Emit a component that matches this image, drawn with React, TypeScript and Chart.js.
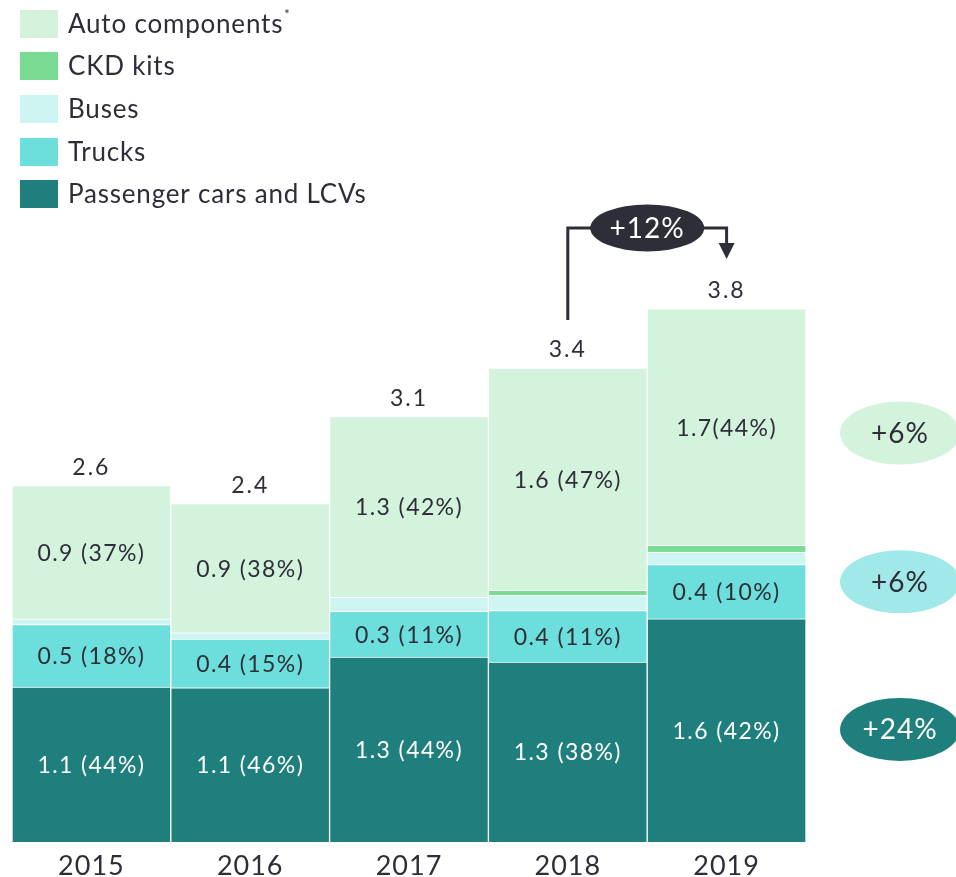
import React, { useEffect, useRef } from "react";
import { Chart, registerables } from "chart.js";

Chart.register(...registerables);

const years = ["2015", "2016", "2017", "2018", "2019"];
const passengerCars = [1.115, 1.11, 1.33, 1.295, 1.605];
const trucks = [0.45, 0.35, 0.33, 0.37, 0.39];
const buses = [0.04, 0.045, 0.1, 0.11, 0.09];
const ckdKits = [0, 0, 0, 0.035, 0.05];
const autoComponents = [0.96, 0.93, 1.3, 1.6, 1.7];

const passengerLabels = ["1.1 (44%)", "1.1 (46%)", "1.3 (44%)", "1.3 (38%)", "1.6 (42%)"];
const truckLabels = ["0.5 (18%)", "0.4 (15%)", "0.3 (11%)", "0.4 (11%)", "0.4 (10%)"];
const autoLabels = ["0.9 (37%)", "0.9 (38%)", "1.3 (42%)", "1.6 (47%)", "1.7(44%)"];
const totalLabels = ["2.6", "2.4", "3.1", "3.4", "3.8"];

const growthSeries = ["Auto components", "Trucks", "Passenger cars and LCVs"];
const growthValues = ["+6%", "+6%", "+24%"];
const overallGrowth = "+12%";

const legendOrder = ["Auto components", "CKD kits", "Buses", "Trucks", "Passenger cars and LCVs"];

const COLORS: Record<string, string> = {
  "Passenger cars and LCVs": "#1f7f7c",
  Trucks: "#6cdedb",
  Buses: "#cff5f2",
  "CKD kits": "#7adb93",
  "Auto components": "#d3f3dc",
};
const GROWTH_FILL: Record<string, string> = {
  "Auto components": "#d3f3dc",
  Trucks: "#a1e9e8",
  "Passenger cars and LCVs": "#1f7f7c",
};
const DARK = "#2e2e38";
const FONT = "Lato";
const W = "400";

const annotPlugin = {
  id: "annot",
  beforeDraw(chart: any) {
    (chart.ctx as any).letterSpacing = "1px";
  },
  afterDatasetsDraw(chart: any) {
    const ctx = chart.ctx as any;
    const area = chart.chartArea;
    ctx.save();
    ctx.textAlign = "center";
    ctx.textBaseline = "middle";

    // segment labels
    ctx.letterSpacing = "1.4px";
    const labelMap: (string[] | null)[] = [passengerLabels, truckLabels, null, null, autoLabels];
    chart.data.datasets.forEach((_ds: any, di: number) => {
      const labels = labelMap[di];
      if (!labels) return;
      const meta = chart.getDatasetMeta(di);
      meta.data.forEach((bar: any, i: number) => {
        ctx.fillStyle = di === 0 ? "#ffffff" : DARK;
        ctx.font = `${W} 23px ${FONT}`;
        ctx.fillText(labels[i], bar.x, (bar.y + bar.base) / 2 + 1);
      });
    });

    // totals
    const topMeta = chart.getDatasetMeta(chart.data.datasets.length - 1);
    ctx.fillStyle = DARK;
    ctx.font = `${W} 23px ${FONT}`;
    ctx.letterSpacing = "2px";
    topMeta.data.forEach((bar: any, i: number) => {
      ctx.fillText(totalLabels[i], bar.x, bar.y - 18);
    });

    // arrow 2018 -> 2019
    const b3 = topMeta.data[3];
    const b4 = topMeta.data[4];
    const lineY = Math.min(b3.y, b4.y) - 81;
    const startY = b3.y - 48;
    const tipY = b4.y - 50;
    ctx.strokeStyle = DARK;
    ctx.lineWidth = 3;
    ctx.beginPath();
    ctx.moveTo(b3.x, startY);
    ctx.lineTo(b3.x, lineY);
    ctx.lineTo(b4.x, lineY);
    ctx.lineTo(b4.x, tipY - 14);
    ctx.stroke();
    ctx.fillStyle = DARK;
    ctx.beginPath();
    ctx.moveTo(b4.x - 8, tipY - 16);
    ctx.lineTo(b4.x + 8, tipY - 16);
    ctx.lineTo(b4.x, tipY);
    ctx.closePath();
    ctx.fill();
    const ecx = (b3.x + b4.x) / 2;
    ctx.beginPath();
    ctx.ellipse(ecx, lineY, 57, 23.5, 0, 0, Math.PI * 2);
    ctx.fill();
    ctx.fillStyle = "#ffffff";
    ctx.font = `${W} 28px ${FONT}`;
    ctx.letterSpacing = "1px";
    ctx.fillText(overallGrowth, ecx, lineY + 1);

    // growth ellipses on the right
    const dsIndex: Record<string, number> = {};
    chart.data.datasets.forEach((ds: any, i: number) => (dsIndex[ds.label] = i));
    const offsets: Record<string, number> = { "Auto components": 6, Trucks: -10, "Passenger cars and LCVs": -1 };
    growthSeries.forEach((name, gi) => {
      const bar = chart.getDatasetMeta(dsIndex[name]).data[years.length - 1];
      const cy = (bar.y + bar.base) / 2 + offsets[name];
      const cx = area.right + 94;
      ctx.fillStyle = GROWTH_FILL[name];
      ctx.beginPath();
      ctx.ellipse(cx, cy, 60, 31.5, 0, 0, Math.PI * 2);
      ctx.fill();
      ctx.fillStyle = name === "Passenger cars and LCVs" ? "#ffffff" : DARK;
      ctx.font = `${W} 28px ${FONT}`;
      ctx.fillText(growthValues[gi], cx, cy + 1);
    });

    // legend
    const rowTops = [10, 52, 95, 138, 180];
    ctx.letterSpacing = "0.8px";
    legendOrder.forEach((name, i) => {
      const top = rowTops[i];
      ctx.fillStyle = COLORS[name];
      ctx.fillRect(20, top, 38, 28);
      ctx.fillStyle = DARK;
      ctx.font = `${W} 26px ${FONT}`;
      ctx.textAlign = "left";
      ctx.fillText(name, 68, top + 15);
      if (name === "Auto components") {
        const w = ctx.measureText(name).width;
        ctx.font = `13px ${FONT}`;
        ctx.fillText("*", 68 + w + 1, top + 5);
      }
    });
    ctx.restore();
  },
  afterDraw(chart: any) {
    (chart.ctx as any).letterSpacing = "0px";
  },
};

export default function App() {
  const ref = useRef<HTMLCanvasElement | null>(null);
  useEffect(() => {
    document.body.style.margin = "0";
    if (!ref.current) return;
    const mk = (label: string, data: number[]) => ({
      label,
      data,
      backgroundColor: COLORS[label],
      borderColor: "#ffffff",
      borderWidth: 1,
      categoryPercentage: 1,
      barPercentage: 1,
    });
    const chart = new Chart(ref.current, {
      type: "bar",
      data: {
        labels: years,
        datasets: [
          mk("Passenger cars and LCVs", passengerCars),
          mk("Trucks", trucks),
          mk("Buses", buses),
          mk("CKD kits", ckdKits),
          mk("Auto components", autoComponents),
        ],
      },
      options: {
        responsive: true,
        maintainAspectRatio: false,
        animation: false,
        layout: { padding: { top: 216.5, left: 12, right: 150, bottom: 0 } },
        plugins: { legend: { display: false }, tooltip: { enabled: false } },
        scales: {
          x: {
            stacked: true,
            grid: { display: false, drawTicks: false },
            border: { display: false },
            ticks: { color: DARK, font: { family: FONT, size: 27, weight: "400" }, padding: 8 },
            afterFit: (s: any) => {
              s.height = 35;
            },
          },
          y: { stacked: true, display: false, min: 0, max: 4.5 },
        },
      },
      plugins: [annotPlugin],
    });
    return () => chart.destroy();
  }, []);
  return (
    <div style={{ position: "relative", width: 956, height: 877, background: "#ffffff" }}>
      <canvas ref={ref} />
    </div>
  );
}
